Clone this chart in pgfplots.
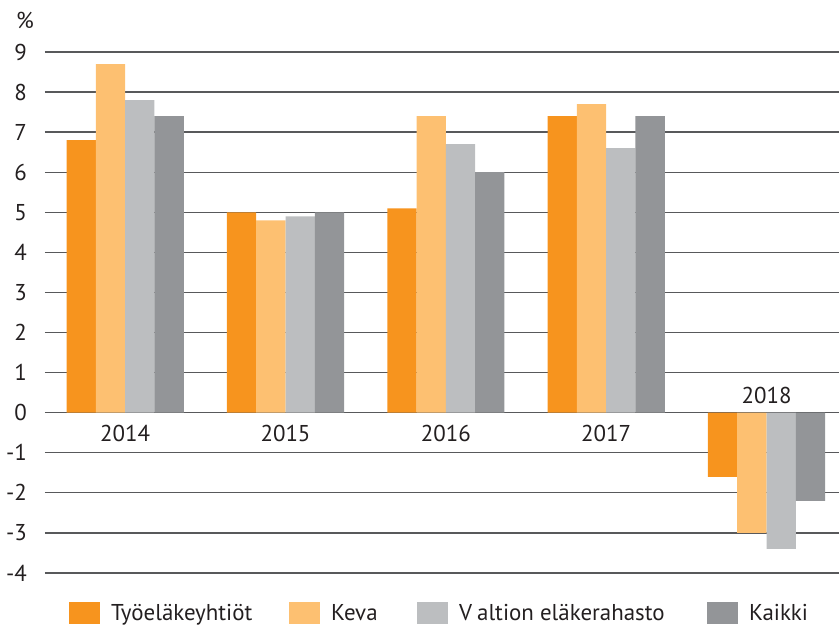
\documentclass[border=0pt]{standalone}
\usepackage{fontspec}
\setmainfont{PT Sans}
\usepackage{pgfplots}
\pgfplotsset{compat=1.18}
\definecolor{c1}{HTML}{F7941E}
\definecolor{c2}{HTML}{FDC071}
\definecolor{c3}{HTML}{BCBEC0}
\definecolor{c4}{HTML}{939598}
\definecolor{gridc}{HTML}{58595B}
\definecolor{txt}{HTML}{231F20}
\pgfplotsset{legsq/.style={legend image code/.code={\fill[##1] (0bp,-11bp) rectangle (31bp,11bp);}}}
\begin{document}
\begin{tikzpicture}
\begin{axis}[
  scale only axis, width=794bp, height=521bp,
  xmin=-0.5, xmax=4.452, ymin=-4, ymax=9,
  clip=false,
  ybar=0pt, bar width=29.3bp,
  axis line style={draw=none}, tick style={draw=none},
  xtick=\empty, ytick={-4,-3,-2,-1,0,1,2,3,4,5,6,7,8,9},
  yticklabels={-4,-3,-2,-1,0,1,2,3,4,5,6,7,8,9},
  yticklabel style={font=\fontsize{23}{23}\selectfont, text=txt, inner sep=0pt, xshift=-18bp},
  ymajorgrids, grid style={draw=gridc, line width=1.3bp},
  legend style={at={(0.0302,-0.0768)}, anchor=west, draw=none, fill=none, inner sep=0pt,
    font=\fontsize{23}{23}\selectfont, text=txt,
    nodes={inner sep=0pt},
    /tikz/every even column/.append style={column sep=0bp},
    /tikz/every odd column/.append style={column sep=11bp}},
  legend columns=4,
]
\addplot[fill=c1, draw=none, legsq] coordinates {(0,6.8) (1,5.0) (2,5.1) (3,7.4) (4,-1.6)};
\addplot[fill=c2, draw=none, legsq] coordinates {(0,8.7) (1,4.8) (2,7.4) (3,7.7) (4,-3.0)};
\addplot[fill=c3, draw=none, legsq] coordinates {(0,7.8) (1,4.9) (2,6.7) (3,6.6) (4,-3.4)};
\addplot[fill=c4, draw=none, legsq] coordinates {(0,7.4) (1,5.0) (2,6.0) (3,7.4) (4,-2.2)};
\legend{\makebox[178bp][l]{Työeläkeyhtiöt}, \makebox[86bp][l]{Keva}, \makebox[248bp][l]{V\hspace{5bp}altion eläkerahasto}, Kaikki}
\node[font=\fontsize{23}{23}\selectfont, text=txt] at (axis cs:0,0) [yshift=-21bp] {2014};
\node[font=\fontsize{23}{23}\selectfont, text=txt] at (axis cs:1,0) [yshift=-21bp] {2015};
\node[font=\fontsize{23}{23}\selectfont, text=txt] at (axis cs:2,0) [yshift=-21bp] {2016};
\node[font=\fontsize{23}{23}\selectfont, text=txt] at (axis cs:3,0) [yshift=-21bp] {2017};
\node[font=\fontsize{23}{23}\selectfont, text=txt] at (axis cs:4,0) [yshift=17bp] {2018};
\node[font=\fontsize{23}{23}\selectfont, text=txt] at (rel axis cs:0,1) [xshift=-20bp, yshift=32bp] {\%};
\coordinate (bl) at (rel axis cs:0,0);
\coordinate (tr) at (rel axis cs:1,1);
\end{axis}
\pgfresetboundingbox
\path (bl) ++(-45bp,-55bp) rectangle ([yshift=52bp]tr);
\end{tikzpicture}
\end{document}
